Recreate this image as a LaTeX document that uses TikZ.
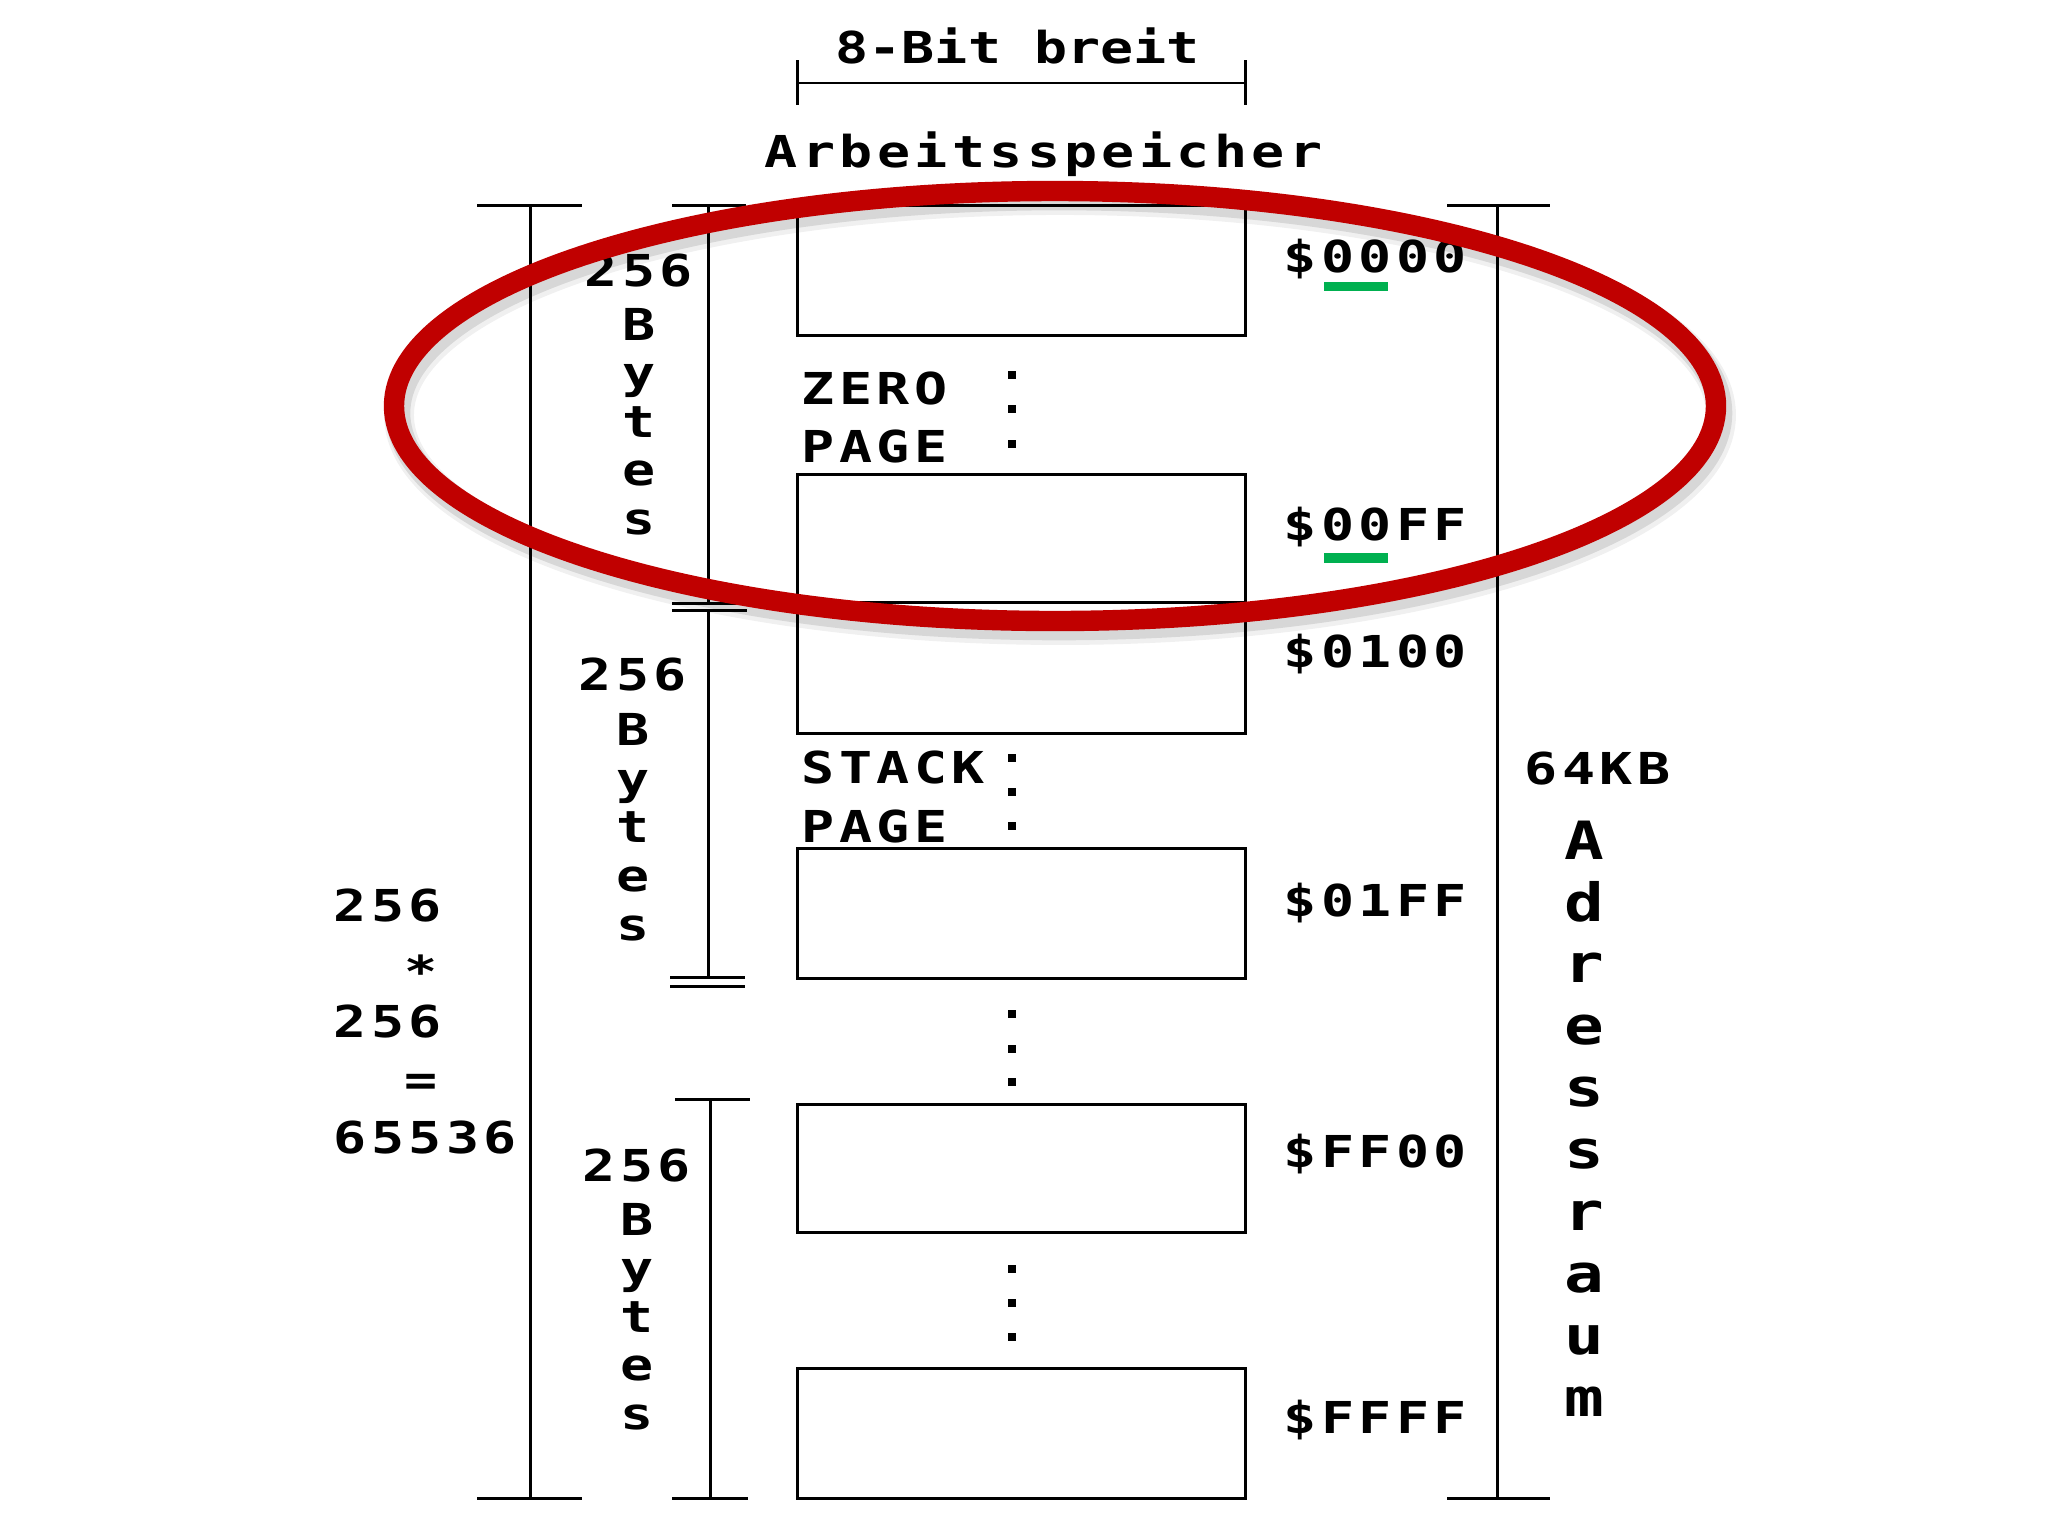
\documentclass[tikz,border=0pt]{standalone}
\usepackage{fontspec}
\newfontfamily\pix{DejaVu Sans Mono}[FakeStretch=1.25,LetterSpace=10]
\newfontfamily\pixtight{DejaVu Sans Mono}[FakeStretch=1.25,LetterSpace=0]
\definecolor{ovalred}{HTML}{C00000}
\definecolor{markgreen}{HTML}{00B050}
\begin{document}
\begin{tikzpicture}[x=0.01cm,y=-0.01cm,
  ln/.style={line width=0.85pt, line cap=butt},
  membox/.style={draw, line width=0.85pt, minimum width=4.48cm, anchor=north west, inner sep=0pt, outer sep=0pt},
  lbl/.style={anchor=base west, inner sep=0pt, font=\pix\bfseries\fontsize{12.5}{15}\selectfont},
  col/.style={anchor=north, inner sep=0pt, align=center, font=\pix\bfseries\fontsize{12.5}{13.8}\selectfont},
  vdot/.style={fill=black, minimum size=0.08cm, inner sep=0pt, outer sep=0pt}
]
\useasboundingbox[fill=white] (0,0) rectangle (2048,1536);

% memory boxes
\node[membox, minimum height=1.30cm] (b1) at (797,205) {};
\node[membox, minimum height=1.28cm] (b2) at (797,474) {};
\node[membox, minimum height=1.31cm] (b3) at (797,602) {};
\node[membox, minimum height=1.30cm] (b4) at (797,848) {};
\node[membox, minimum height=1.28cm] (b5) at (797,1104) {};
\node[membox, minimum height=1.30cm] (b6) at (797,1368) {};

% top width marker
\coordinate (wl) at (797,83); \coordinate (wr) at (1245,83);
\draw[ln] (wl) -- (wr);
\draw[ln] (797,60) -- (797,105);
\draw[ln] (1245,60) -- (1245,105);
\node[lbl, font=\pixtight\bfseries\fontsize{12.5}{15}\selectfont] (width) at (835,63) {8-Bit breit};
\node[lbl] (title) at (764,167) {Arbeitsspeicher};

% outer left dimension line
\coordinate (olt) at (530,205); \coordinate (olb) at (530,1498);
\draw[ln] (olt) -- (olb);
\draw[ln] (477,205) -- (582,205);
\draw[ln] (477,1498) -- (582,1498);

% inner dimension lines
\coordinate (i1t) at (708,205); \coordinate (i1b) at (708,603);
\draw[ln] (i1t) -- (i1b);
\draw[ln] (672,205) -- (746,205);
\draw[ln] (672,603) -- (747,603);
\draw[ln] (672,610) -- (747,610);
\coordinate (i2t) at (708,610); \coordinate (i2b) at (708,977);
\draw[ln] (i2t) -- (i2b);
\draw[ln] (670,977) -- (745,977);
\draw[ln] (670,986) -- (745,986);
\coordinate (i3t) at (710,1099); \coordinate (i3b) at (710,1498);
\draw[ln] (i3t) -- (i3b);
\draw[ln] (675,1099) -- (750,1099);
\draw[ln] (672,1498) -- (748,1498);

% right dimension line
\coordinate (rt) at (1497,205); \coordinate (rb) at (1497,1498);
\draw[ln] (rt) -- (rb);
\draw[ln] (1447,205) -- (1550,205);
\draw[ln] (1447,1498) -- (1550,1498);

% page labels
\node[lbl] (zp1) at (801,404) {ZERO};
\node[lbl] (zp2) at (801,462) {PAGE};
\node[lbl] (sp1) at (801,783) {STACK};
\node[lbl] (sp2) at (801,842) {PAGE};

% vertical dots
\foreach \yy [count=\i] in {375,409,444,758,792,826,1014,1049,1082,1269,1303,1337}
  \node[vdot] (dot\i) at (1012,\yy) {};

% addresses
\node[lbl] (a1) at (1283,272) {\$0000};
\node[lbl] (a2) at (1283,540) {\$00FF};
\node[lbl] (a3) at (1283,667) {\$0100};
\node[lbl] (a4) at (1283,916) {\$01FF};
\node[lbl] (a5) at (1283,1167) {\$FF00};
\node[lbl] (a6) at (1283,1433) {\$FFFF};
\fill[markgreen] (1324,282) rectangle (1388,291);
\fill[markgreen] (1324,553) rectangle (1388,563);

% byte columns
\node[col] (by1) at (639,253) {256\\[1.5pt]B\\y\\t\\e\\s};
\node[col] (by2) at (633,657) {256\\[2pt]B\\y\\t\\e\\s};
\node[col] (by3) at (637,1148) {256\\[1.5pt]B\\y\\t\\e\\s};

% calculation
\node[anchor=north west, inner sep=0pt, align=left, font=\pix\bfseries\fontsize{12.5}{16.5}\selectfont] (calc) at (333,888)
  {256\\\hphantom{25}\raisebox{-2.3pt}{*}\\256\\\hphantom{25}=\\65536};

% address space
\node[lbl] (kb) at (1524,784) {64KB};
\node[col, font=\pix\bfseries\fontsize{15}{17.6}\selectfont] (adr) at (1584,820) {A\\d\\r\\e\\s\\s\\r\\a\\u\\m};

% red oval with soft shadow
\coordinate (oc) at (1055,406);
\draw[black, opacity=0.06, line width=8.5pt] ([shift={(5,9)}]oc) ellipse [x radius=661, y radius=215];
\draw[black, opacity=0.10, line width=7pt] ([shift={(4,7)}]oc) ellipse [x radius=661, y radius=215];
\draw[ovalred, line width=5.8pt] (oc) ellipse [x radius=661, y radius=215];
\end{tikzpicture}
\end{document}
